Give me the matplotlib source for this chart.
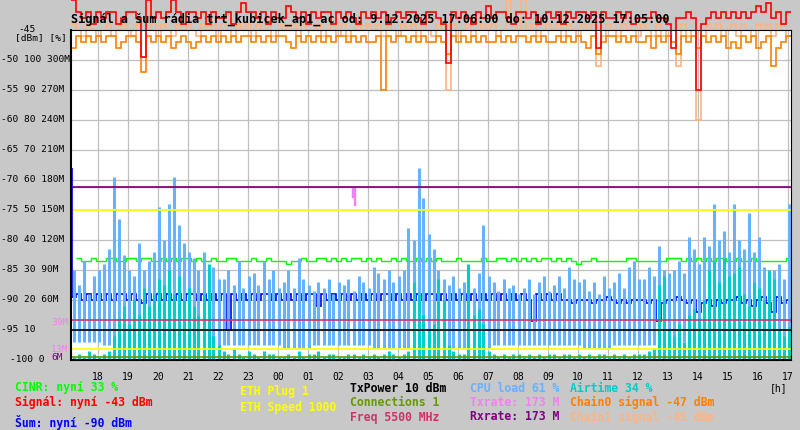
import numpy as np
import matplotlib.pyplot as plt
from matplotlib import transforms

MONO = 'DejaVu Sans Mono'
BG = '#c8c8c8'

# 10 minute bins, first bin starts 9.12.2025 17:06 (hours, >24 = next day)
t_start = 17.1
bin_h = 1 / 6

# Signal (dBm), one row = one hour
signal_dbm = [
    -40, -42, -43, -42, -44, -42,
    -43, -42, -42, -44, -43, -42,
    -42, -43, -49.5, -40, -43, -42,
    -43, -42, -40, -42, -44, -42,
    -42, -43, -42, -44, -42, -43,
    -43, -42, -44, -42, -40.5, -42,
    -42, -43, -42, -44, -42, -43,
    -43, -41, -42, -43, -42, -44,
    -42, -43, -42, -42, -44, -42,
    -43, -42, -43, -44, -42, -43,
    -42, -43, -42, -44, -43, -42,
    -43, -42, -42, -43, -44, -42,
    -42, -43, -44, -50.5, -42, -43,
    -42, -43, -44, -42, -43, -41,
    -43, -42, -42, -43, -44, -42,
    -42, -43, -42, -44, -43, -42,
    -43, -42, -44, -42, -43, -42,
    -42, -43, -42, -48, -42, -43,
    -43, -42, -43, -42, -44, -43,
    -43, -43, -42, -43, -43, -44,
    -48, -43, -43, -42, -43, -55,
    -44, -43, -42, -43, -42, -43,
    -42, -43, -42, -43, -42, -41,
    -42, -40.5, -43, -42, -44, -42,
]

chain0_dbm = [
    -48, -46, -47, -46, -47, -46,
    -47, -46, -46, -48, -47, -46,
    -46, -47, -52, -46, -47, -46,
    -47, -46, -48, -47, -46, -47,
    -48, -47, -46, -47, -46, -47,
    -46, -47, -46, -47, -46, -46,
    -47, -46, -47, -46, -47, -46,
    -46, -47, -48, -46, -47, -46,
    -47, -46, -47, -46, -47, -46,
    -46, -47, -46, -47, -46, -47,
    -47, -46, -55, -46, -47, -46,
    -46, -47, -46, -47, -46, -47,
    -47, -46, -47, -49, -46, -47,
    -46, -47, -46, -47, -46, -47,
    -47, -46, -47, -46, -47, -46,
    -46, -47, -46, -47, -46, -47,
    -47, -46, -47, -46, -47, -46,
    -47, -48, -46, -49, -47, -46,
    -46, -47, -46, -47, -46, -47,
    -47, -46, -48, -46, -47, -46,
    -47, -49, -46, -47, -46, -48,
    -46, -47, -46, -47, -46, -48,
    -47, -48, -46, -47, -46, -48,
    -47, -46, -51, -48, -47, -46,
]

chain1_dbm = [
    -44, -45, -46, -44, -45, -46,
    -45, -44, -46, -45, -44, -45,
    -46, -44, -49.5, -45, -44, -46,
    -44, -45, -46, -44, -45, -44,
    -45, -46, -44, -45, -44, -46,
    -44, -45, -46, -44, -45, -44,
    -46, -44, -45, -44, -46, -45,
    -44, -45, -44, -46, -44, -45,
    -45, -44, -46, -45, -44, -46,
    -44, -46, -45, -44, -45, -44,
    -45, -44, -46, -44, -45, -46,
    -44, -45, -44, -46, -44, -45,
    -46, -44, -45, -55, -44, -46,
    -45, -44, -46, -45, -44, -45,
    -44, -46, -45, -40, -44, -45,
    -40, -45, -44, -46, -45, -44,
    -45, -44, -46, -44, -45, -46,
    -44, -45, -44, -51, -46, -44,
    -45, -46, -44, -45, -44, -46,
    -44, -45, -46, -44, -46, -45,
    -45, -51, -44, -46, -45, -60,
    -46, -44, -45, -44, -46, -45,
    -44, -46, -44, -45, -46, -44,
    -45, -44, -46, -44, -45, -46,
]

noise_start_dbm = -68
noise_dbm = [
    -89.5, -89, -90, -89, -90, -89,
    -90, -89, -90, -89, -89, -90,
    -89, -90, -90.5, -89, -90, -89,
    -90, -89, -90, -89, -90, -89,
    -89, -90, -89, -90, -89, -90,
    -89, -95, -89, -90, -89, -90,
    -89, -90, -89, -89, -90, -89,
    -90, -89, -90, -89, -90, -89,
    -89, -91, -89, -90, -89, -90,
    -89, -90, -89, -90, -89, -90,
    -89, -90, -89, -89, -90, -89,
    -90, -89, -90, -89, -90, -89,
    -89, -90, -89, -90, -89, -90,
    -89, -90, -89, -90, -89, -90,
    -89, -90, -89, -90, -89, -90,
    -89, -90, -93.5, -89, -90, -89,
    -90, -89, -90, -90, -90.5, -90,
    -90, -90, -90.5, -90, -90, -89.5,
    -90, -90.5, -90, -90.5, -90, -90,
    -90, -90.5, -90, -93.5, -90.5, -90,
    -90, -89.5, -90, -90.5, -90, -92,
    -90.5, -90, -91, -90, -90.5, -90,
    -90, -89.5, -90.5, -90, -91, -90,
    -89.5, -90.5, -92, -89.5, -90.5, -90,
]

cinr_pct = [
    np.nan, 34, 33, 33, 34, 33,
    33, 34, 34, 33, 33, 34,
    34, 33, 34, 34, 33, 33,
    34, 33, 34, 33, 34, 34,
    33, 34, 33, 33, 34, 33,
    33, 34, 34, 33, 33, 33,
    34, 33, 33, 34, 33, 33,
    33, 32, 33, 33, 34, 33,
    33, 34, 34, 33, 34, 33,
    34, 33, 34, 34, 33, 34,
    33, 34, 33, 33, 34, 33,
    34, 33, 33, 34, 33, 34,
    33, 34, 33, 33, 33, 34,
    33, 33, 33, 33, 34, 33,
    33, 34, 34, 33, 34, 33,
    34, 33, 34, 33, 34, 34,
    33, 34, 33, 34, 33, 32,
    33, 33, 34, 33, 33, 33,
    33, 33, 33, 34, 34, 33,
    33, 33, 33, 33, 33, 34,
    34, 34, 33, 34, 33, 34,
    33, 34, 33, 34, 34, 33,
    33, 34, 33, 33, 34, 33,
    33, 33, 33, 33, 33, 34,
]

cpu_peak_pct = [
    30, 25, 33, 22, 28, 30,
    32, 37, 61, 47, 35, 30,
    28, 39, 30, 33, 36, 51,
    40, 52, 61, 45, 39, 36,
    34, 30, 36, 28, 31, 27,
    27, 30, 25, 33, 24, 28,
    29, 25, 33, 27, 30, 24,
    26, 30, 24, 34, 27, 25,
    23, 26, 24, 27, 22, 26,
    25, 27, 23, 28, 26, 24,
    31, 29, 27, 30, 26, 28,
    30, 44, 40, 64, 54, 42,
    37, 30, 27, 25, 28, 24,
    26, 27, 24, 29, 45, 28,
    26, 23, 27, 24, 25, 22,
    24, 27, 22, 26, 28, 23,
    25, 28, 24, 31, 27, 26,
    27, 23, 26, 22, 28, 24,
    26, 29, 24, 31, 33, 27,
    27, 31, 28, 38, 30, 29,
    30, 33, 29, 41, 37, 32,
    41, 38, 52, 40, 43, 36,
    52, 40, 37, 49, 36, 41,
    31, 28, 30, 32, 27, 52,
]

# lower end of the CPU strokes, one value per hour
cpu_low_pct = [6, 5, 4, 4, 4, 5, 5, 4, 5, 5, 4, 4,
               4, 4, 5, 5, 5, 4, 5, 5, 6, 5, 5, 5]

airtime_pct = [
    1, 2, 1, 3, 2, 1,
    2, 3, 8, 14, 18, 12,
    20, 15, 24, 18, 22, 27,
    25, 30, 22, 28, 20, 24,
    18, 15, 22, 32, 8, 5,
    3, 2, 4, 2, 1, 3,
    2, 1, 3, 2, 2, 1,
    1, 2, 1, 3, 1, 2,
    2, 3, 1, 2, 2, 1,
    1, 2, 2, 1, 2, 1,
    2, 1, 2, 3, 2, 1,
    2, 3, 26, 22, 15, 10,
    12, 27, 20, 5, 3, 2,
    2, 32, 15, 17, 12, 3,
    2, 1, 2, 1, 2, 2,
    1, 2, 1, 2, 1, 2,
    2, 1, 2, 2, 1, 2,
    1, 2, 1, 2, 2, 1,
    2, 1, 2, 1, 2, 2,
    2, 3, 4, 25, 28, 10,
    8, 12, 6, 15, 17, 14,
    20, 30, 33, 26, 34, 28,
    29, 31, 22, 18, 26, 24,
    20, 30, 27, 10, 8, 11,
]

tx_t = [17.1, 26.467, 26.5, 26.533, 26.567, 41.1]
tx_m = [173, 163, 173, 155, 173, 173]
rx_m = 173
eth_speed_m = 150
txpower_pct = 10
freq_dbm = -93.3
eth_plug_dbm = -98.2
conn_dbm = -99.5

ytick_dbm = [-100, -95, -90, -85, -80, -75, -70, -65, -60, -55, -50]
ytick_text = ["-100 0", "-95 10", "-90 20 60M", "-85 30 90M", "-80 40 120M",
              "-75 50 150M", "-70 60 180M", "-65 70 210M", "-60 80 240M",
              "-55 90 270M", "-50 100 300M"]
xtick_h = list(range(18, 42))
xtick_text = ["%02d" % (h % 24) for h in xtick_h]

legend = [
    (15, 388, "CINR: nyní 33 %", '#00ff00'),
    (15, 402, "Signál: nyní -43 dBm", '#ff0000'),
    (15, 422, "Šum: nyní -90 dBm", '#0000ff'),
    (240, 392, "ETH Plug 1", '#ffff00'),
    (240, 407, "ETH Speed 1000", '#ffff00'),
    (350, 388, "TxPower 10 dBm", '#000000'),
    (350, 402, "Connections 1", '#669900'),
    (350, 417, "Freq 5500 MHz", '#cc3366'),
    (470, 388, "CPU load 61 %", '#66b2ff'),
    (470, 402, "Txrate: 173 M", '#ee82ee'),
    (470, 417, "Rxrate: 173 M", '#800080'),
    (570, 388, "Airtime 34 %", '#00cccc'),
    (570, 402, "Chain0 signal -47 dBm", '#ff8000'),
    (570, 417, "Chain1 signal -45 dBm", '#ffb380'),
]


def pct(v):
    return -100 + np.asarray(v, float) / 2


def mbit(v):
    return -100 + np.asarray(v, float) / 6


def px(x, y):
    return x / 800, 1 - y / 430


fig = plt.figure(figsize=(8, 4.3), dpi=100, facecolor=BG)
ax = fig.add_axes([71 / 800, 70 / 430, 720 / 800, 330 / 430])
ax.set_xlim(t_start, t_start + 24)
ax.set_ylim(-100, -45)

n = len(signal_dbm)
edges = t_start + np.arange(n + 1) * bin_h
centers = edges[:-1] + bin_h / 2

# grid
ax.set_axisbelow(True)
ax.set_xticks(xtick_h)
ax.set_xticklabels(xtick_text, fontsize=7, family=MONO)
ax.set_yticks(ytick_dbm)
ax.set_yticklabels([])
ax.tick_params(length=0, pad=9)
ax.grid(True, color='#c0c0c0', lw=0.9)
for side in ['left', 'bottom']:
    ax.spines[side].set_linewidth(1.5)
for side in ['top', 'right']:
    ax.spines[side].set_linewidth(0.8)

# CPU load and airtime strokes
cpu_low = np.repeat(cpu_low_pct, 6)
ax.vlines(centers, pct(cpu_low), pct(cpu_peak_pct), colors='#66b2ff', lw=2.2)
ax.vlines(centers, -100, pct(airtime_pct), colors='#00cccc', lw=2.2)

# constant values
ax.axhline(mbit(eth_speed_m), color='#ffff00', lw=1.2)
ax.step(tx_t, mbit(tx_m), where='post', color='#ee82ee', lw=1)
ax.axhline(mbit(rx_m), color='#700070', lw=1.2)
ax.axhline(pct(txpower_pct), color='black', lw=1.2)
ax.axhline(freq_dbm, color='#cc3366', lw=1.2)
ax.axhline(eth_plug_dbm, color='#ffff00', lw=1.2)
ax.axhline(conn_dbm, color='#669900', lw=1.2)

# measured lines
ax.stairs(pct(cinr_pct), edges, baseline=None, color='#00ff00', lw=1)
ax.vlines([t_start + 0.03], noise_dbm[0], noise_start_dbm, colors='#0000ff', lw=1.2)
ax.stairs(noise_dbm, edges, baseline=None, color='#0000ff', lw=1.2)
ax.stairs(chain1_dbm, edges, baseline=None, color='#ffb380', lw=1.2, clip_on=False)
ax.stairs(chain0_dbm, edges, baseline=None, color='#ff8000', lw=1.2, clip_on=False)
ax.stairs(signal_dbm, edges, baseline=None, color='#ff0000', lw=1.2, clip_on=False)

# y labels in columns dBm / % / Mbit
ytr = transforms.blended_transform_factory(fig.transFigure, ax.transData)
for d, s in zip(ytick_dbm, ytick_text):
    x0 = 10 if d == -100 else 1
    ax.text(x0 / 800, d, s, transform=ytr, ha='left', va='center',
            fontsize=6.8, family=MONO, clip_on=False)
ax.text(51 / 800, -93.7, "39M", transform=ytr, ha='left', va='center',
        fontsize=6.8, family=MONO, color='#ee82ee')
ax.text(51 / 800, -98.2, "13M", transform=ytr, ha='left', va='center',
        fontsize=6.8, family=MONO, color='#ee82ee')
ax.text(51 / 800, -99.5, "6M", transform=ytr, ha='left', va='center',
        fontsize=6.8, family=MONO, color='#800080')

fig.text(*px(18, 30), "-45", ha='left', va='center', fontsize=6.8, family=MONO)
fig.text(*px(15, 38), "[dBm] [%]", ha='left', va='center', fontsize=6.8, family=MONO,
         bbox=dict(facecolor=BG, edgecolor='none', pad=0.5))

fig.text(*px(71, 19), "Signál a šum rádia trt_kubicek_ap1_ac od: 9.12.2025 17:06:00 "
         "do: 10.12.2025 17:05:00", ha='left', va='center', fontsize=8.45,
         family=MONO, weight='bold', zorder=5)

fig.text(*px(770, 388), "[h]", ha='left', va='center', fontsize=7, family=MONO)
for x, y, s, c in legend:
    fig.text(*px(x, y), s, ha='left', va='center', fontsize=8.3, family=MONO,
             weight='bold', color=c)

fig.savefig('out.png', dpi=100, facecolor=BG)
